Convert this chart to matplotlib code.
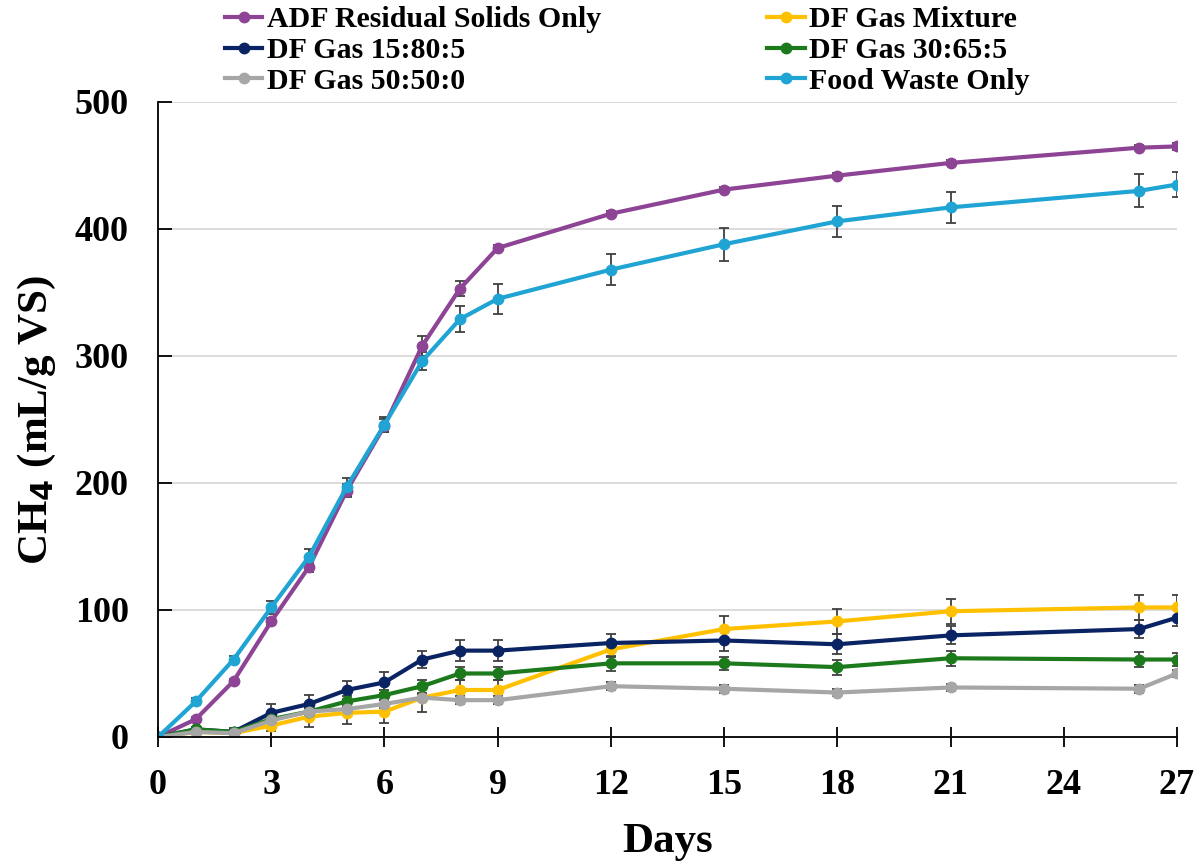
import matplotlib.pyplot as plt
import numpy as np

plt.rcParams['font.family'] = ['Liberation Serif', 'DejaVu Serif']
plt.rcParams['font.weight'] = 'bold'

# DATOS
days = [0, 1, 2, 3, 4, 5, 6, 7, 8, 9, 12, 15, 18, 21, 26, 27]

adf = [0, 14, 44, 91, 134, 194, 245, 308, 353, 385, 412, 431, 442, 452, 464, 465]
adf_err = [1, 2, 2, 3, 4, 5, 5, 8, 6, 2, 2, 2, 2, 2, 2, 3]

mixture = [0, 4, 3, 9, 16, 19, 20, 31, 37, 37, 69, 85, 91, 99, 102, 102]
mixture_err = [2, 2, 3, 4, 8, 9, 9, 11, 8, 8, 6, 10, 10, 10, 10, 10]

gas_15 = [0, 6, 4, 19, 26, 37, 43, 61, 68, 68, 74, 76, 73, 80, 85, 94]
gas_15_err = [2, 2, 3, 7, 7, 7, 8, 7, 8, 8, 7, 8, 8, 7, 7, 7]

gas_30 = [0, 6, 4, 14, 20, 28, 33, 40, 50, 50, 58, 58, 55, 62, 61, 61]
gas_30_err = [2, 2, 2, 3, 3, 4, 4, 5, 5, 5, 6, 5, 6, 6, 6, 5]

gas_50 = [0, 4, 3, 13, 20, 22, 26, 31, 29, 29, 40, 38, 35, 39, 38, 50]
gas_50_err = [1, 1, 2, 2, 3, 3, 3, 3, 3, 3, 3, 3, 3, 3, 3, 3]

food = [0, 28, 61, 102, 142, 197, 246, 296, 329, 345, 368, 388, 406, 417, 430, 435]
food_err = [2, 3, 3, 5, 6, 7, 6, 7, 10, 12, 12, 13, 12, 12, 13, 10]

series = [
    ("ADF Residual Solids Only", adf, adf_err, "#8E4495"),
    ("DF Gas Mixture", mixture, mixture_err, "#FFC000"),
    ("DF Gas 15:80:5", gas_15, gas_15_err, "#0A2463"),
    ("DF Gas 30:65:5", gas_30, gas_30_err, "#1C7A1C"),
    ("DF Gas 50:50:0", gas_50, gas_50_err, "#A6A6A6"),
    ("Food Waste Only", food, food_err, "#1FA4D3"),
]

fig = plt.figure(figsize=(12.01, 8.64), dpi=100)
ax = fig.add_axes([0.1316, 0.147, 0.8484, 0.735])

lineas = {}
for nombre, y, err, color in series:
    l = ax.errorbar(days, y, yerr=err, color=color, marker='o', markersize=7.5,
                    linewidth=3, ecolor='#404040', elinewidth=1.3, capsize=3.5,
                    capthick=1.3, label=nombre)
    lineas[nombre] = l[0]

ax.set_xlim(0, 27)
ax.set_ylim(0, 500)
ax.set_xticks(np.arange(0, 28, 3))
ax.set_yticks(np.arange(0, 501, 100))
ax.tick_params(axis='x', direction='inout', length=14, width=1.3, labelsize=26, pad=16)
ax.tick_params(axis='y', direction='in', length=10, width=1.3, labelsize=26, pad=21)
ax.yaxis.grid(True, color='#D9D9D9', linewidth=1.3)
ax.set_axisbelow(True)
ax.spines['top'].set_visible(False)
ax.spines['right'].set_visible(False)
ax.spines['left'].set_linewidth(1.3)
ax.spines['bottom'].set_linewidth(1.3)

ax.set_xlabel('Days', fontsize=31, fontweight='bold', labelpad=15)
ax.set_ylabel('CH$_\\mathbf{4}$ (mL/g VS)', fontsize=31, fontweight='bold', labelpad=12)

orden = ["ADF Residual Solids Only", "DF Gas 15:80:5", "DF Gas 50:50:0",
         "DF Gas Mixture", "DF Gas 30:65:5", "Food Waste Only"]
fig.legend([lineas[n] for n in orden], orden, ncol=2, loc='upper left',
           bbox_to_anchor=(0.165, 1.024), frameon=False,
           prop={'size': 21.5, 'weight': 'bold'}, handlelength=1.25,
           handletextpad=0.15, columnspacing=5.57, labelspacing=0.13)

fig.savefig('out.png', dpi=100)
